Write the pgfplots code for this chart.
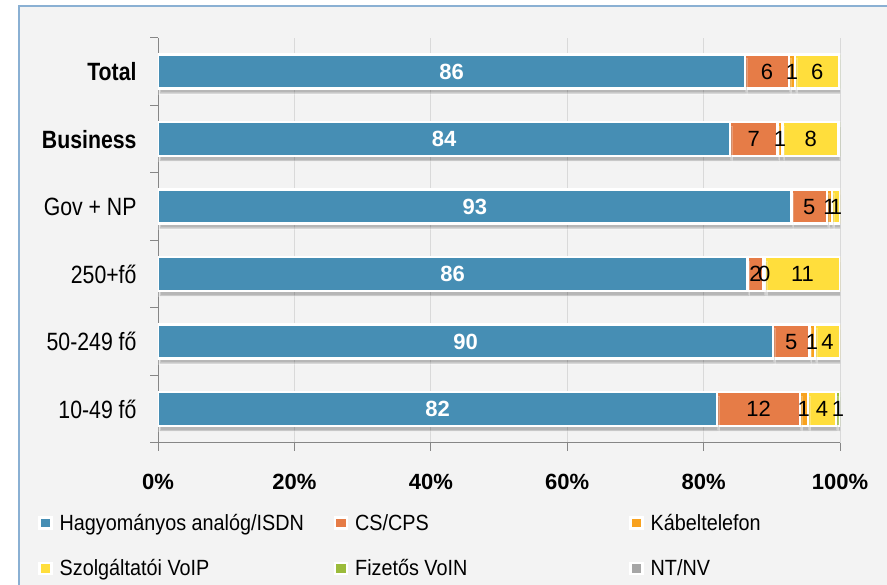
\documentclass[border=0pt]{standalone}
\usepackage{pgfplots}
\pgfplotsset{compat=1.18}
\usepackage{pgfplotstable}
\usepackage{fontspec}
\setmainfont{Liberation Sans}
\newfontfamily\catfont[FakeStretch=0.85]{Liberation Sans}
\newfontfamily\legfont[FakeStretch=0.9]{Liberation Sans}
\usetikzlibrary{shadows}
\definecolor{cblue}{HTML}{468EB4}
\definecolor{corange}{HTML}{E67C47}
\definecolor{ckabel}{HTML}{F8A21F}
\definecolor{cyellow}{HTML}{FFDE3C}
\definecolor{cgreen}{HTML}{9BBB3B}
\definecolor{cgray}{HTML}{A6A6A6}
\definecolor{bg}{HTML}{F3F3F3}
\definecolor{framec}{HTML}{8AB0D3}
\definecolor{axisgray}{HTML}{868686}
\definecolor{gridgray}{HTML}{D9D9D9}

\pgfplotstableread{
y a b c d e f la lb lc ld le lf
0 82.0 12.1 1.2 4.1 0.6 0 82 12 1 4 1 {}
1 90.2 5.3 0.8 3.7 0 0 90 5 1 4 {} {}
2 86.4 2.4 0.2 11.0 0 0 86 2 0 11 {} {}
3 92.9 5.2 0.7 1.2 0 0 93 5 1 1 {} {}
4 83.9 6.9 0.8 8.2 0.2 0 84 7 1 8 {} {}
5 86.1 6.4 0.9 6.5 0.1 0 86 6 1 6 {} {}
}\datatable

\makeatletter
\tikzset{noshadow/.code={\let\tikz@preactions\pgfutil@empty}}
\makeatother
\tikzset{shd/.style={drop shadow={shadow xshift=1.5pt, shadow yshift=-5pt, opacity=0.25, fill=black}}}
\pgfplotsset{legsq/.style={legend image code/.code={\fill[/tikz/preaction/.code={}, ##1, noshadow] (0pt,-5.5pt) rectangle (12pt,5.5pt);}}}

\begin{document}
\begin{tikzpicture}
\useasboundingbox (0,0) rectangle (887pt,585pt);
\fill[white] (0,0) rectangle (887pt,585pt);
\fill[bg] (19pt,0) rectangle (887pt,579pt);
\draw[framec, line width=2pt] (19pt,0) -- (19pt,579pt) -- (887pt,579pt);
\begin{axis}[
  at={(158pt,142pt)}, anchor=south west,
  scale only axis, width=682pt, height=405pt,
  xbar stacked, bar width=34pt,
  every axis plot post/.append style={legsq},
  xmin=0, xmax=100, ymin=-0.5, ymax=5.5,
  axis x line*=bottom, axis y line*=left,
  axis line style={axisgray, line width=1pt, -},
  xtick={0,20,...,100},
  xticklabels={0\%,20\%,40\%,60\%,80\%,100\%},
  xticklabel style={font=\fontsize{22}{26}\selectfont\bfseries, yshift=-20pt},
  ytick={0,...,5},
  yticklabels={10-49 fő, 50-249 fő, 250+fő, Gov + NP, \textbf{Business}, \textbf{Total}},
  yticklabel style={font=\catfont\fontsize{25}{29}\selectfont, anchor=east, xshift=-10pt},
  minor ytick={-0.5,0.5,...,5.5},
  tick align=outside,
  major tick length=8pt, minor tick length=8pt,
  tick style={axisgray, line width=1pt},
  major y tick style={draw=none},
  xmajorgrids, grid style={gridgray, line width=1pt},
  nodes near coords, point meta=explicit symbolic,
  every node near coord/.append style={anchor=center, font=\fontsize{22}{26}\selectfont, text=black},
  legend columns=3,
  legend style={at={(-0.176,-0.17)}, anchor=north west, draw=none, fill=none, inner sep=0pt,
    font=\legfont\fontsize{22}{26}\selectfont, cells={anchor=west}, row sep=24pt,
    /tikz/every odd column/.append style={column sep=5pt},
    /tikz/every even column/.append style={column sep=10pt}},
]
\addplot[fill=cblue, draw=white, line width=2.5pt, shd,
  every node near coord/.append style={text=white, font=\fontsize{22}{26}\selectfont\bfseries}]
  table[x=a, y=y, meta=la]{\datatable};
\addplot[fill=corange, draw=white, line width=2.5pt, shd] table[x=b, y=y, meta=lb]{\datatable};
\addplot[fill=ckabel, draw=white, line width=2.5pt, shd] table[x=c, y=y, meta=lc]{\datatable};
\addplot[fill=cyellow, draw=white, line width=2.5pt, shd] table[x=d, y=y, meta=ld]{\datatable};
\addplot[fill=cgreen, draw=white, line width=2.5pt, shd] table[x=e, y=y, meta=le]{\datatable};
\addplot[fill=cgray, draw=white, line width=2.5pt, shd] table[x=f, y=y, meta=lf]{\datatable};
\addlegendimage{fill=cblue, draw=none}
\addlegendentry{\makebox[262pt][l]{Hagyományos analóg/ISDN}}
\addlegendimage{fill=corange, draw=none}
\addlegendentry{\makebox[262pt][l]{CS/CPS}}
\addlegendimage{fill=ckabel, draw=none}
\addlegendentry{\makebox[200pt][l]{Kábeltelefon}}
\addlegendimage{fill=cyellow, draw=none}
\addlegendentry{\makebox[262pt][l]{Szolgáltatói VoIP}}
\addlegendimage{fill=cgreen, draw=none}
\addlegendentry{\makebox[262pt][l]{Fizetős VoIN}}
\addlegendimage{fill=cgray, draw=none}
\addlegendentry{\makebox[200pt][l]{NT/NV}}
\end{axis}
\end{tikzpicture}
\end{document}
